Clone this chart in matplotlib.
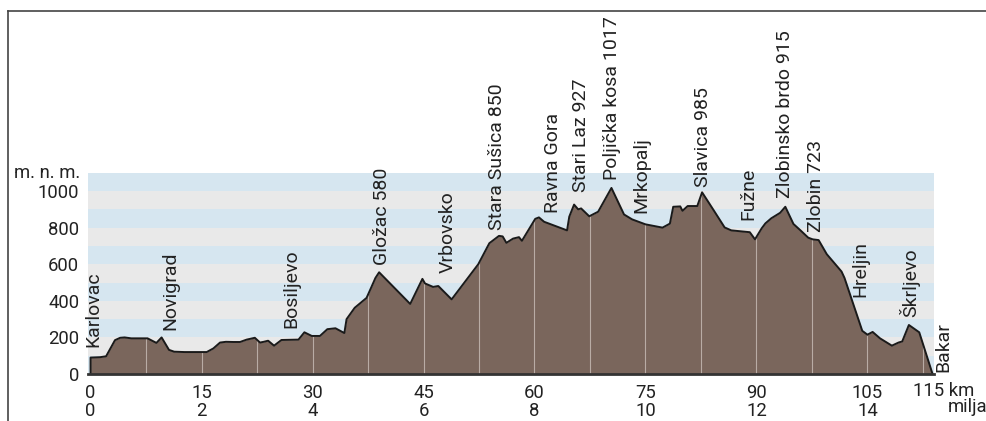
import numpy as np
import matplotlib.pyplot as plt
from matplotlib.lines import Line2D

plt.rcParams['font.family'] = ['Roboto', 'DejaVu Sans']

# profile: distance (km) and altitude (m)
km = [0.0, 0.0, 1.3, 2.1, 3.3, 4.0, 4.6, 5.5, 7.7, 8.9, 9.6, 10.6, 11.3, 12.7,
      15.7, 16.6, 17.5, 18.3, 19.3, 20.2, 21.1, 22.2, 22.9, 23.4, 24.0, 24.8,
      25.8, 28.1, 28.9, 29.9, 31.0, 32.0, 33.1, 34.3, 34.6, 35.7, 37.3, 37.9,
      38.5, 39.0, 43.2, 44.85, 45.2, 46.3, 47.0, 48.8, 52.4, 53.9, 55.2, 55.7,
      56.2, 57.1, 57.9, 58.3, 60.1, 60.6, 61.3, 64.4, 64.7, 65.35, 65.9, 66.3,
      67.4, 68.6, 70.4, 72.1, 73.2, 75.0, 77.3, 78.3, 78.75, 79.7, 80.0, 80.7,
      82.0, 82.65, 84.2, 85.7, 86.6, 89.1, 89.8, 90.7, 91.2, 92.0, 93.2, 93.9,
      95.0, 95.9, 97.0, 97.6, 98.4, 99.5, 101.5, 101.9, 104.3, 105.0, 105.7,
      106.7, 108.3, 109.2, 109.7, 110.6, 112.0, 113.8]
alt = [0, 90, 92, 97, 185, 198, 200, 195, 195, 170, 200, 132, 122, 120,
       120, 140, 172, 176, 175, 175, 188, 198, 172, 176, 182, 155,
       186, 188, 228, 208, 208, 245, 250, 224, 300, 362, 416, 470,
       525, 556, 383, 520, 495, 476, 481, 408, 600, 715, 755, 752,
       717, 740, 748, 728, 848, 856, 832, 785, 860, 926, 900, 905,
       862, 887, 1017, 872, 845, 818, 800, 822, 914, 916, 892, 918,
       918, 993, 896, 801, 785, 775, 736, 796, 823, 851, 881, 914,
       820, 787, 745, 736, 732, 655, 560, 525, 236, 215, 230,
       195, 155, 172, 178, 268, 228, 0]

# place names: position (km) and altitude of the label foot (m)
names = ['Karlovac', 'Novigrad', 'Bosiljevo', 'Gložac 580', 'Vrbovsko',
         'Stara Sušica 850', 'Ravna Gora', 'Stari Laz 927', 'Poljička kosa 1017',
         'Mrkopalj', 'Slavica 985', 'Fužne', 'Zlobinsko brdo 915', 'Zlobin 723',
         'Hreljin', 'Škrljevo', 'Bakar']
name_km = [0.34, 10.74, 27.1, 39.4, 48.3, 54.9, 62.5, 66.3, 70.5,
           74.5, 82.8, 88.85, 93.85, 98.05, 104.0, 110.7, 115.2]
name_alt = [150, 240, 250, 596, 550, 787, 880, 995, 1060,
            880, 1022, 842, 962, 776, 421, 311, 11]

km_ticks = [0, 15, 30, 45, 60, 75, 90, 105]
mile_labels = ['0', '2', '4', '6', '8', '10', '12', '14']
alt_ticks = [0, 200, 400, 600, 800, 1000]

fig = plt.figure(figsize=(9.86, 4.21), dpi=100)
ax = fig.add_axes([0.0896, 0.1116, 0.8577, 0.4781])
ax.set_xlim(-0.3, 114.0)
ax.set_ylim(0, 1100)

# altitude bands
for lo in range(0, 1100, 100):
    ax.axhspan(lo, lo + 100, color='#d6e6f0' if (lo // 100) % 2 == 0 else '#e9e9e9',
               lw=0, zorder=0)

ax.fill_between(km, alt, 0, color='#7a665c', lw=0, zorder=2)
grid_x = np.arange(7.5, 113, 7.5)
ax.vlines(grid_x, 0, np.interp(grid_x, km, alt), color='#b9aca5', lw=0.8, zorder=3)
ax.plot(km, alt, color='#1a1a1a', lw=1.4, zorder=4)

for name, x, y in zip(names, name_km, name_alt):
    ax.text(x, y, name, rotation=90, ha='center', va='bottom', fontsize=14,
            color='#222222', clip_on=False)

for s in ['left', 'right', 'top']:
    ax.spines[s].set_visible(False)
ax.spines['bottom'].set_color('#333333')
ax.spines['bottom'].set_linewidth(2)
ax.spines['bottom'].set_zorder(5)

ax.set_xticks(km_ticks, labels=[f'{k}\n{m}' for k, m in zip(km_ticks, mile_labels)])
ax.set_yticks(alt_ticks)
ax.tick_params(axis='x', length=0, pad=7, labelsize=13.3, labelcolor='#222222')
ax.tick_params(axis='y', length=0, pad=6.5, labelsize=13.3, labelcolor='#222222')
for lab in ax.get_xticklabels():
    lab.set_linespacing(1.03)

ax.text(-1.42, 1100, 'm. n. m.', ha='right', va='center', fontsize=13.3,
        color='#222222', clip_on=False)
ax.text(111.15, -92, '115 km', ha='left', va='center', fontsize=13.3,
        color='#222222', clip_on=False)
ax.text(115.9, -180, 'milja', ha='left', va='center', fontsize=13.3,
        color='#222222', clip_on=False)

# outer frame
fig.add_artist(Line2D([0.0086, 1.0], [0.9727, 0.9727], transform=fig.transFigure,
                      color='#444444', lw=1.2))
fig.add_artist(Line2D([0.0086, 0.0086], [0.0, 0.9727], transform=fig.transFigure,
                      color='#444444', lw=1.2))

fig.savefig('out.png', dpi=100)
